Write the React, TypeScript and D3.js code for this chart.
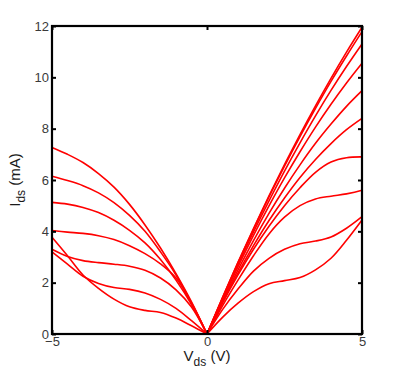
import { useEffect, useRef } from 'react';
import * as d3 from 'd3';

// Vds sample points (V) for each branch
const vLeft = [-5, -4.5, -4, -3.5, -3, -2.5, -2, -1.5, -1, -0.5, 0];
const vRight = [0, 0.5, 1, 1.5, 2, 2.5, 3, 3.5, 4, 4.5, 5];

// Ids (mA), negative Vds branch
const left1 = [7.27, 7.0, 6.68, 6.25, 5.72, 5.05, 4.25, 3.35, 2.35, 1.25, 0];
const left2 = [6.15, 5.98, 5.78, 5.5, 5.12, 4.62, 4.0, 3.2, 2.3, 1.2, 0];
const left3 = [5.13, 5.06, 4.93, 4.73, 4.43, 4.04, 3.55, 2.9, 2.1, 1.15, 0];
const left4 = [4.03, 3.97, 3.92, 3.83, 3.68, 3.44, 3.13, 2.73, 2.18, 1.2, 0];
const left5 = [3.3, 3.02, 2.86, 2.78, 2.72, 2.64, 2.48, 2.18, 1.72, 1.05, 0];
const left6 = [3.2, 2.72, 2.25, 1.97, 1.81, 1.74, 1.6, 1.35, 1.0, 0.52, 0];
const left7 = [3.77, 3.05, 2.3, 1.78, 1.36, 1.06, 0.92, 0.84, 0.62, 0.32, 0];

// Ids (mA), positive Vds branch
const right1 = [0, 1.42, 2.79, 4.11, 5.38, 6.6, 7.77, 8.89, 9.96, 10.98, 11.95];
const right2 = [0, 1.41, 2.78, 4.08, 5.34, 6.54, 7.69, 8.79, 9.84, 10.83, 11.78];
const right3 = [0, 1.38, 2.71, 3.98, 5.19, 6.35, 7.45, 8.5, 9.49, 10.42, 11.3];
const right4 = [0, 1.34, 2.62, 3.84, 4.99, 6.08, 7.1, 8.06, 8.95, 9.78, 10.55];
const right5 = [0, 1.29, 2.5, 3.64, 4.7, 5.68, 6.59, 7.43, 8.18, 8.87, 9.48];
const right6 = [0, 1.24, 2.38, 3.44, 4.42, 5.3, 6.1, 6.8, 7.42, 7.96, 8.4];
const right7 = [0, 1.2, 2.3, 3.3, 4.2, 5.0, 5.7, 6.3, 6.7, 6.87, 6.9];
const right8 = [0, 1.1, 2.1, 3.05, 3.9, 4.55, 5.0, 5.26, 5.37, 5.46, 5.6];
const right9 = [0, 0.95, 1.75, 2.45, 2.95, 3.3, 3.52, 3.62, 3.78, 4.12, 4.57];
const right10 = [0, 0.65, 1.2, 1.65, 1.96, 2.08, 2.2, 2.5, 2.95, 3.65, 4.44];

const leftCurves = [left1, left2, left3, left4, left5, left6, left7];
const rightCurves = [right1, right2, right3, right4, right5, right6, right7, right8, right9, right10];

const xTicks = [-5, 0, 5];
const yTicks = [0, 2, 4, 6, 8, 10, 12];

const width = 399;
const height = 378;

export default function App() {
  const svgRef = useRef<SVGSVGElement>(null);

  useEffect(() => {
    const svg = d3.select(svgRef.current);
    svg.selectAll('*').remove();

    const margin = { top: 26, right: 37, bottom: 44, left: 52 };
    const innerWidth = width - margin.left - margin.right;
    const innerHeight = height - margin.top - margin.bottom;

    const x = d3.scaleLinear().domain([-5, 5]).range([0, innerWidth]);
    const y = d3.scaleLinear().domain([0, 12]).range([innerHeight, 0]);

    const g = svg.append('g')
      .attr('transform', `translate(${margin.left},${margin.top})`);

    const line = d3.line<[number, number]>()
      .x(d => x(d[0]))
      .y(d => y(d[1]))
      .curve(d3.curveCatmullRom.alpha(0.5));

    const series: [number, number][][] = [
      ...leftCurves.map(c => c.map((v, i) => [vLeft[i], v] as [number, number])),
      ...rightCurves.map(c => c.map((v, i) => [vRight[i], v] as [number, number])),
    ];

    g.selectAll('path.curve')
      .data(series)
      .join('path')
      .attr('class', 'curve')
      .attr('fill', 'none')
      .attr('stroke', '#ff0000')
      .attr('stroke-width', 1.6)
      .attr('d', line);

    const font = '"Liberation Sans", Arial, Helvetica, sans-serif';
    const tick = 4;

    const styleAxis = (sel: any) => {
      sel.select('.domain').remove();
      sel.selectAll('.tick line').attr('stroke', '#000').attr('stroke-width', 2);
      sel.selectAll('.tick text')
        .attr('fill', '#3a3a3a')
        .style('font-family', font)
        .style('font-size', '13px');
    };

    g.append('g')
      .attr('transform', `translate(0,${innerHeight})`)
      .call(d3.axisBottom(x).tickValues(xTicks).tickSizeInner(-tick).tickSizeOuter(0).tickPadding(3)
        .tickFormat(d => (d as number) < 0 ? `\u2212${Math.abs(d as number)}` : `${d}`))
      .call(styleAxis);

    g.append('g')
      .call(d3.axisTop(x).tickValues(xTicks).tickSizeInner(-tick).tickSizeOuter(0).tickFormat(() => ''))
      .call(styleAxis);

    g.append('g')
      .call(d3.axisLeft(y).tickValues(yTicks).tickSizeInner(-tick).tickSizeOuter(0).tickPadding(3))
      .call(styleAxis);

    g.append('g')
      .attr('transform', `translate(${innerWidth},0)`)
      .call(d3.axisRight(y).tickValues(yTicks).tickSizeInner(-tick).tickSizeOuter(0).tickFormat(() => ''))
      .call(styleAxis);

    g.append('rect')
      .attr('width', innerWidth)
      .attr('height', innerHeight)
      .attr('fill', 'none')
      .attr('stroke', '#000')
      .attr('stroke-width', 2.2);

    // x label: V_ds (V)
    const xl = svg.append('text')
      .attr('x', margin.left + innerWidth / 2)
      .attr('y', height - 17)
      .attr('text-anchor', 'middle')
      .attr('fill', '#1a1a1a')
      .style('font-family', font)
      .style('font-size', '15px');
    xl.append('tspan').text('V');
    xl.append('tspan').attr('dy', 5).style('font-size', '12px').text('ds');
    xl.append('tspan').attr('dy', -5).text(' (V)');

    // y label: I_ds (mA)
    const yl = svg.append('text')
      .attr('transform', `translate(20,${margin.top + innerHeight / 2}) rotate(-90)`)
      .attr('text-anchor', 'middle')
      .attr('fill', '#1a1a1a')
      .style('font-family', font)
      .style('font-size', '15px');
    yl.append('tspan').text('I');
    yl.append('tspan').attr('dy', 5).style('font-size', '12px').text('ds');
    yl.append('tspan').attr('dy', -5).text(' (mA)');
  }, []);

  return (
    <svg
      ref={svgRef}
      width={width}
      height={height}
      style={{ position: 'absolute', left: 0, top: 0, background: '#fff' }}
    />
  );
}
